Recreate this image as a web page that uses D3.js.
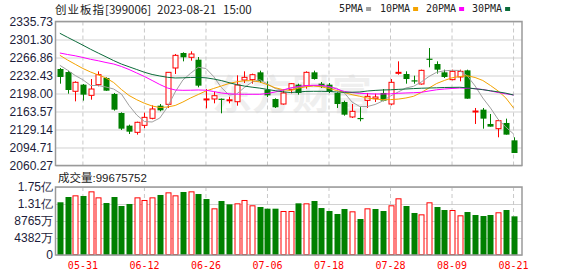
<!DOCTYPE html>
<html>
<head>
<meta charset="utf-8">
<script src="https://cdn.jsdelivr.net/npm/d3@7"></script>
<style>
  body { margin: 0; background: #fff; }
</style>
</head>
<body>
<div id="chart"></div>
<script>
// trading days 2023-05-26 .. 2023-08-21
const dates = ["05-26", "05-29", "05-30", "05-31",
    "06-01", "06-02", "06-05", "06-06", "06-07", "06-08", "06-09", "06-12", "06-13", "06-14", "06-15", "06-16",
    "06-19", "06-20", "06-21", "06-26", "06-27", "06-28", "06-29", "06-30",
    "07-03", "07-04", "07-05", "07-06", "07-07", "07-10", "07-11", "07-12", "07-13", "07-14", "07-17", "07-18",
    "07-19", "07-20", "07-21", "07-24", "07-25", "07-26", "07-27", "07-28", "07-31",
    "08-01", "08-02", "08-03", "08-04", "08-07", "08-08", "08-09", "08-10", "08-11", "08-14", "08-15", "08-16",
    "08-17", "08-18", "08-21"];

const open = [2244.9, 2239.1, 2202.2, 2214.9, 2194.5, 2214.9, 2227.7, 2197.1, 2160.7, 2136.5,
    2123.7, 2137.1, 2150.5, 2174.7, 2177.3, 2246.8, 2275.5, 2267.2, 2262.7, 2186.8,
    2187.5, 2188.0, 2185.4, 2182.3, 2223.8, 2224.5, 2238.5, 2205.3, 2187.5, 2177.9,
    2205.3, 2214.9, 2213.0, 2238.5, 2216.8, 2214.9, 2199.0, 2181.8, 2153.1, 2151.2,
    2184.9, 2188.1, 2199.0, 2177.9, 2237.2, 2235.3, 2223.2, 2216.2, 2264.6, 2254.4,
    2238.5, 2224.5, 2229.6, 2242.3, 2163.0, 2167.1, 2139.7, 2130.7, 2141.6, 2108.4];

const high = [2246.8, 2241.7, 2221.3, 2216.2, 2225.7, 2240.4, 2229.0, 2199.0, 2162.0, 2138.4,
    2144.1, 2161.3, 2175.4, 2177.9, 2238.5, 2273.6, 2276.8, 2278.7, 2267.8, 2206.6,
    2201.4, 2188.5, 2191.9, 2232.8, 2240.4, 2236.0, 2241.7, 2221.3, 2188.8, 2205.3,
    2218.1, 2216.8, 2240.4, 2241.7, 2220.0, 2218.1, 2200.2, 2184.3, 2177.9, 2172.0,
    2199.0, 2197.7, 2206.6, 2225.7, 2259.5, 2240.4, 2232.1, 2243.6, 2285.0, 2259.5,
    2243.6, 2243.6, 2243.6, 2243.6, 2170.3, 2170.3, 2158.8, 2148.1, 2149.9, 2114.2];

const low = [2216.8, 2197.7, 2183.0, 2184.3, 2186.2, 2211.7, 2203.0, 2165.2, 2128.2, 2120.5,
    2119.3, 2132.0, 2148.6, 2163.9, 2170.3, 2235.3, 2259.5, 2260.8, 2209.8, 2169.7,
    2179.2, 2160.1, 2179.2, 2174.7, 2218.1, 2216.8, 2218.1, 2191.3, 2170.3, 2176.7,
    2198.3, 2195.8, 2207.3, 2224.5, 2208.5, 2198.9, 2170.3, 2155.6, 2151.2, 2144.8,
    2170.3, 2181.8, 2183.0, 2175.4, 2234.0, 2216.8, 2216.8, 2214.9, 2248.1, 2236.0,
    2227.7, 2223.2, 2221.3, 2188.1, 2139.7, 2130.7, 2134.6, 2114.2, 2119.3, 2084.2];

const close = [2229.6, 2204.7, 2219.4, 2195.8, 2206.6, 2234.0, 2203.4, 2167.1, 2130.7, 2125.0,
    2142.9, 2152.4, 2168.4, 2165.8, 2238.5, 2271.0, 2267.2, 2273.6, 2213.0, 2187.6,
    2193.8, 2186.9, 2186.0, 2214.3, 2228.9, 2234.0, 2221.3, 2194.5, 2171.6, 2199.0,
    2216.8, 2199.0, 2238.5, 2225.7, 2210.4, 2200.9, 2177.9, 2157.5, 2163.9, 2149.9,
    2192.6, 2191.3, 2184.3, 2219.4, 2238.5, 2225.7, 2221.3, 2242.3, 2262.7, 2243.6,
    2229.6, 2240.4, 2240.4, 2188.1, 2164.5, 2149.9, 2134.6, 2146.0, 2119.3, 2084.2];

// volume in millions of shares
const volume = [135.9, 149.5, 153.8, 152.1, 164.1, 148.6, 134.0, 149.5, 126.3, 131.5,
    148.6, 141.8, 148.6, 154.7, 161.5, 153.8, 162.4, 164.1, 157.2, 144.3,
    120.3, 139.2, 130.6, 133.2, 141.8, 128.1, 123.7, 119.4, 119.4, 113.4,
    113.4, 133.2, 133.2, 139.2, 121.1, 113.4, 105.7, 118.6, 112.6, 92.8,
    120.3, 118.6, 113.4, 128.1, 146.1, 126.3, 108.3, 104.8, 135.8, 123.7,
    116.0, 116.0, 102.3, 110.8, 103.1, 100.5, 103.1, 110.1, 116.0, 99.675752];

const ma5 = [2251.9, 2242.6, 2232.4, 2224.2, 2213.3, 2213.3, 2210.4, 2206.6, 2197.1, 2175.1,
    2156.9, 2144.4, 2143.5, 2151.1, 2172.2, 2200.9, 2223.8, 2236.6, 2248.1, 2245.8,
    2230.5, 2209.5, 2195.1, 2197.1, 2209.5, 2220.0, 2224.4, 2216.2, 2207.6, 2203.7,
    2208.5, 2209.9, 2211.8, 2213.3, 2212.0, 2210.4, 2208.0, 2199.0, 2181.7, 2173.1,
    2173.1, 2177.0, 2183.7, 2193.2, 2200.9, 2208.5, 2211.8, 2220.0, 2230.5, 2238.6,
    2241.4, 2242.4, 2242.0, 2231.5, 2212.4, 2189.4, 2170.3, 2148.3, 2133.9, 2120.5];

const ma10 = [2271.1, 2262.1, 2253.9, 2245.8, 2239.1, 2233.4, 2227.7, 2219.0, 2205.7, 2194.2,
    2186.1, 2179.3, 2174.1, 2171.2, 2172.2, 2175.1, 2181.7, 2189.4, 2196.1, 2202.8,
    2207.6, 2212.4, 2217.1, 2220.4, 2222.3, 2222.5, 2220.0, 2214.8, 2209.1, 2205.3,
    2203.7, 2208.1, 2210.8, 2212.4, 2210.8, 2207.6, 2203.7, 2199.9, 2195.7, 2192.7,
    2189.4, 2187.5, 2186.1, 2186.3, 2187.3, 2189.4, 2192.7, 2199.9, 2208.5, 2217.1,
    2222.9, 2228.0, 2230.5, 2231.9, 2228.6, 2222.9, 2213.3, 2202.8, 2189.4, 2170.3];

const ma20 = [2275.5, 2272.6, 2270.1, 2266.9, 2263.4, 2260.6, 2257.3, 2254.4, 2249.7, 2243.9,
    2237.2, 2230.5, 2222.9, 2215.2, 2208.5, 2204.7, 2204.1, 2204.3, 2204.7, 2204.3,
    2201.8, 2199.0, 2197.4, 2196.7, 2196.5, 2196.5, 2196.5, 2198.0, 2200.9, 2204.7,
    2208.5, 2211.4, 2213.3, 2213.7, 2213.7, 2211.4, 2206.6, 2201.8, 2199.9, 2198.4,
    2197.6, 2197.1, 2197.1, 2197.4, 2198.4, 2199.0, 2199.5, 2200.3, 2202.8, 2205.1,
    2206.6, 2207.6, 2208.5, 2208.0, 2207.2, 2205.7, 2202.8, 2199.9, 2197.4, 2195.1];

const ma30 = [2313.2, 2305.5, 2298.0, 2290.4, 2282.6, 2275.3, 2268.2, 2260.9, 2254.4, 2249.1,
    2243.9, 2238.6, 2234.4, 2231.5, 2229.0, 2227.7, 2228.0, 2228.6, 2228.8, 2228.0,
    2225.7, 2222.7, 2218.7, 2215.0, 2212.2, 2210.1, 2208.3, 2205.7, 2203.4, 2201.3,
    2199.9, 2200.9, 2202.0, 2202.2, 2202.2, 2201.8, 2200.9, 2200.3, 2200.5, 2200.9,
    2202.8, 2203.9, 2204.7, 2205.1, 2205.9, 2206.6, 2207.4, 2208.1, 2208.5, 2208.9,
    2209.5, 2209.7, 2209.9, 2208.9, 2207.0, 2205.3, 2203.2, 2201.1, 2198.6, 2195.1];

const priceTicks = [2335.73, 2301.30, 2266.86, 2232.43, 2198.00, 2163.57, 2129.14, 2094.71, 2060.27];
const volTicks = [175.28, 131.46, 87.65, 43.82, 0];
const volTickLabels = ["1.75亿", "1.31亿", "8765万", "4382万", "0"];
const xTickDates = ["05-31", "06-12", "06-26", "07-06", "07-18", "07-28", "08-09", "08-21"];

const maSeries = [
    {name: "5PMA", values: ma5, color: "#a0a0a0"},
    {name: "10PMA", values: ma10, color: "#f4a300"},
    {name: "20PMA", values: ma20, color: "#ff00ff"},
    {name: "30PMA", values: ma30, color: "#0b6b3a"}
];

const W = 578, H = 276;
const m = {left: 56, right: 522, top: 21.5, bottom: 165.5, vTop: 187, vBottom: 255};
const RED = "#ff0000", GREEN = "#008000";
const numFont = "'Liberation Sans', Arial, sans-serif";
const monoFont = "'DejaVu Sans Mono', monospace";
const cjkFont = "'Noto Sans CJK SC', sans-serif";

const svg = d3.select("#chart").append("svg")
    .attr("width", W)
    .attr("height", H)
    .style("display", "block");

const x = d3.scaleBand().domain(dates).range([m.left, 517.4]);
const cx = d => x(d) + x.bandwidth() / 2;
const y = d3.scaleLinear().domain([2060.27, 2335.73]).range([m.bottom, m.top]);
const yv = d3.scaleLinear().domain([0, 175.28]).range([m.vBottom, m.vTop]);

// title
const title = svg.append("text")
    .attr("y", 14)
    .style("font-family", cjkFont)
    .style("font-size", "11.5px")
    .style("fill", "#222");
title.append("tspan").attr("x", 55).style("letter-spacing", "1px").text("创业板指");
title.append("tspan").attr("x", 105).text("[399006]");
title.append("tspan").attr("x", 157).text("2023-08-21");
title.append("tspan").attr("x", 223).text("15:00");

// legend
const legendX = [339, 380, 426, 472];
const legend = svg.append("g");
maSeries.forEach((s, i) => {
    const g = legend.append("g").attr("transform", "translate(" + legendX[i] + ",0)");
    g.append("text")
        .attr("x", 0)
        .attr("y", 12)
        .text(s.name)
        .style("font-family", monoFont)
        .style("font-size", "10px")
        .style("fill", "#222");
    g.append("rect")
        .attr("x", s.name.length * 6.02 + 3)
        .attr("y", 7)
        .attr("width", 5)
        .attr("height", 4)
        .style("fill", s.color);
});

// watermark
svg.append("text")
    .attr("x", 212)
    .attr("y", 109)
    .text("东方财富")
    .style("font-family", cjkFont)
    .style("font-size", "40px")
    .style("font-weight", "bold")
    .style("fill", "#efefef");

// grids
function hGrid(scale, ticks) {
    svg.append("g")
        .attr("transform", "translate(" + m.left + ",0)")
        .call(d3.axisLeft(scale)
            .tickValues(ticks)
            .tickSize(-(m.right - m.left))
            .tickFormat(""))
        .call(g => g.select(".domain").remove())
        .selectAll("line")
        .style("stroke", "#d2d2d2");
}
hGrid(y, priceTicks);
hGrid(yv, volTicks);

[[m.top, m.bottom], [m.vTop, m.vBottom]].forEach(([t, b]) => {
    svg.append("g").selectAll("line")
        .data(xTickDates)
        .enter().append("line")
        .attr("x1", d => cx(d))
        .attr("x2", d => cx(d))
        .attr("y1", t)
        .attr("y2", b)
        .style("stroke", "#c8c8c8")
        .style("stroke-dasharray", "4,3");
});

// candles
const candles = svg.append("g");
dates.forEach((d, i) => {
    const up = close[i] > open[i];
    const col = up ? RED : GREEN;
    const xc = Math.round(cx(d)) + 0.5;
    candles.append("line")
        .attr("x1", xc).attr("x2", xc)
        .attr("y1", y(high[i])).attr("y2", y(low[i]))
        .style("stroke", col);
    const top = y(Math.max(open[i], close[i]));
    const bot = y(Math.min(open[i], close[i]));
    if (up) {
        candles.append("rect")
            .attr("x", xc - 2.5)
            .attr("y", top)
            .attr("width", 5)
            .attr("height", Math.max(1, bot - top))
            .style("fill", "#fff")
            .style("stroke", col);
    } else {
        candles.append("rect")
            .attr("x", xc - 3)
            .attr("y", top)
            .attr("width", 6)
            .attr("height", Math.max(1.2, bot - top))
            .style("fill", col);
    }
});

// moving averages
maSeries.forEach(s => {
    svg.append("path")
        .datum(s.values)
        .attr("d", d3.line()
            .x((v, i) => cx(dates[i]))
            .y(v => y(v)))
        .style("fill", "none")
        .style("stroke", s.color)
        .style("stroke-width", 1);
});

// volume bars, coloured by close vs previous close
const bars = svg.append("g");
dates.forEach((d, i) => {
    const up = i === 0 ? close[i] > open[i] : close[i] >= close[i - 1];
    const xc = Math.round(cx(d)) + 0.5;
    if (up) {
        bars.append("rect")
            .attr("x", xc - 2.5)
            .attr("y", yv(volume[i]) + 0.5)
            .attr("width", 5)
            .attr("height", m.vBottom - yv(volume[i]) - 1)
            .style("fill", "#fff")
            .style("stroke", RED);
    } else {
        bars.append("rect")
            .attr("x", xc - 3)
            .attr("y", yv(volume[i]))
            .attr("width", 6)
            .attr("height", m.vBottom - yv(volume[i]))
            .style("fill", GREEN);
    }
});

// frames
[[m.top, m.bottom], [m.vTop, m.vBottom]].forEach(([t, b]) => {
    svg.append("rect")
        .attr("x", m.left - 0.5)
        .attr("y", t)
        .attr("width", m.right - m.left + 0.5)
        .attr("height", b - t)
        .style("fill", "none")
        .style("stroke", "#9a9a9a")
        .style("stroke-width", 1.5);
});

// axes labels
svg.append("g")
    .attr("transform", "translate(" + m.left + ",0)")
    .call(d3.axisLeft(y).tickValues(priceTicks).tickSize(0).tickPadding(3).tickFormat(d3.format(".2f")))
    .call(g => g.select(".domain").remove())
    .selectAll("text")
    .style("font-family", numFont)
    .style("font-size", "12px")
    .style("fill", "#1c1c3a");

svg.append("g")
    .attr("transform", "translate(" + m.left + ",0)")
    .call(d3.axisLeft(yv).tickValues(volTicks).tickSize(0).tickPadding(3)
        .tickFormat((d, i) => volTickLabels[i]))
    .call(g => g.select(".domain").remove())
    .selectAll("text")
    .style("font-family", numFont)
    .style("font-size", "12px")
    .style("fill", "#1c1c3a");

svg.append("g")
    .attr("transform", "translate(0," + m.vBottom + ")")
    .call(d3.axisBottom(x).tickValues(xTickDates).tickSize(0).tickPadding(7))
    .call(g => g.select(".domain").remove())
    .selectAll("text")
    .style("font-family", monoFont)
    .style("font-size", "10px")
    .style("fill", RED);

// volume caption
const cap = svg.append("text")
    .attr("x", 58)
    .attr("y", 182)
    .style("fill", "#222");
cap.append("tspan").text("成交量").style("font-family", cjkFont).style("font-size", "11.5px");
cap.append("tspan").text(":" + Math.round(volume[volume.length - 1] * 1e6))
    .style("font-family", numFont).style("font-size", "11.5px");
</script>
</body>
</html>
